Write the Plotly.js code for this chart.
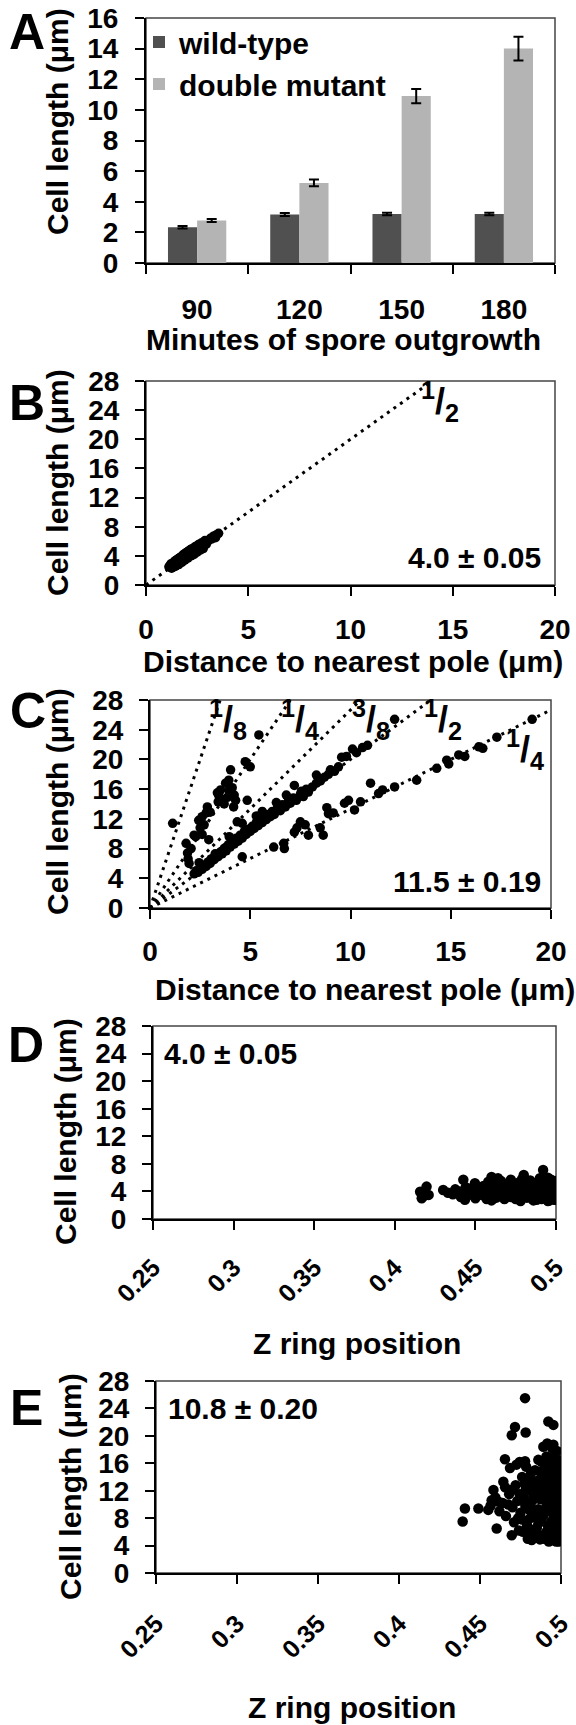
<!DOCTYPE html>
<html>
<head>
<meta charset="utf-8">
<script src="https://cdn.plot.ly/plotly-3.0.1.min.js"></script>
<style>html,body{margin:0;padding:0;background:#fff}#chart{width:576px;height:1725px}</style>
</head>
<body>
<div id="chart"></div>
<script>
// ---------- Panel A data ----------
const minutes = ['90','120','150','180'];
const wildType = [2.33, 3.17, 3.2, 3.2];
const wildTypeErr = [0.08, 0.1, 0.08, 0.08];
const doubleMutant = [2.77, 5.23, 10.9, 14.0];
const doubleMutantErr = [0.1, 0.22, 0.47, 0.77];

// ---------- Panel B data ----------
const bDist = [1.12,1.18,1.22,1.25,1.3,1.32,1.35,1.38,1.4,1.42,1.45,1.48,1.5,1.52,1.55,1.58,1.6,1.62,1.65,1.68,1.7,1.72,1.75,1.78,1.8,1.83,1.85,1.88,1.9,1.93,1.95,1.98,2.0,2.03,2.05,2.08,2.1,2.13,2.15,2.2,2.22,2.25,2.3,2.33,2.38,2.4,2.45,2.5,2.55,2.6,2.65,2.72,2.8,2.88,2.95,3.05,3.15,3.3,3.45,3.55,
 1.3,1.45,1.6,1.75,1.9,2.05,2.2,2.35,2.5,2.65,2.8,1.4,1.6,1.8,2.0,2.2,2.4,2.6,2.9,3.2,3.4];
const bLen = [2.5,2.7,2.9,2.3,2.8,3.0,2.5,3.1,2.7,3.3,2.8,3.4,2.9,3.5,3.0,3.6,3.1,3.7,3.2,3.8,3.3,3.5,3.9,3.5,4.1,3.6,4.2,3.7,4.3,3.8,4.4,3.9,4.5,4.0,4.6,4.1,4.7,4.2,4.8,4.3,4.9,4.4,5.0,4.5,5.2,4.6,5.3,4.8,5.5,4.9,5.6,5.8,5.2,6.1,5.6,6.1,6.4,6.7,6.9,7.1,
 2.4,2.6,2.8,3.1,3.4,3.7,4.0,4.2,4.5,4.8,5.0,3.2,3.6,4.0,4.4,4.9,5.2,5.6,6.0,6.3,6.5];
const bLineX = [0, 14];
const bLineY = [0, 28];

// ---------- Panel C data ----------
const cDist = [1.13,1.8,1.87,1.95,1.9,2.05,2.28,2.43,2.5,2.6,2.7,2.86,2.93,2.8,3.0,3.36,3.45,3.52,3.6,3.7,3.77,3.86,3.93,3.95,4.02,4.1,4.17,4.27,4.2,4.35,4.85,4.75,5.0,5.43,2.2,2.6,3.4,
 2.2,2.3,2.4,2.5,2.6,2.7,2.8,2.9,3.0,3.1,3.2,3.3,3.4,3.5,3.6,3.7,3.8,3.9,4.0,4.1,4.2,4.3,4.4,4.5,4.6,4.7,4.8,4.9,5.0,5.1,5.2,5.3,5.4,5.5,5.6,5.7,5.8,5.9,6.0,6.1,6.2,6.35,6.5,6.6,6.75,6.9,7.0,7.15,7.3,7.5,7.65,7.8,7.9,8.1,8.3,8.5,8.7,8.9,9.0,9.2,9.4,9.56,9.8,10.1,10.3,10.6,10.85,12.2,3.95,4.6,5.6,6.8,2.45,7.2,8.3,6.3,5.3,
 4.6,6.17,6.67,6.7,7.2,7.33,7.5,7.74,7.9,8.49,8.64,8.82,8.9,9.14,9.7,9.9,10.5,10.2,11.0,11.4,11.6,12.2,13.3,14.3,14.8,14.9,15.4,15.7,16.4,16.6,17.3,19.06,
 2.55,3.05,3.55,4.05,4.55,5.05,5.55,6.05,6.55,7.05,7.55,3.25,3.75,4.25,4.75];
const cLen = [11.4,8.7,7.4,6.0,6.6,8.0,9.6,11.8,10.8,12.3,11.2,13.6,9.2,12.8,12.9,15.5,15.0,15.9,14.5,14.0,16.8,14.9,17.2,15.8,18.6,16.2,13.6,14.5,15.2,11.6,14.5,19.7,19.0,23.3,9.8,9.9,14.3,
 4.6,5.0,4.8,5.4,5.2,5.8,5.6,6.2,6.0,6.6,6.5,7.1,6.9,7.5,7.3,8.0,7.7,8.5,8.2,8.9,8.6,9.4,9.0,9.8,9.4,10.3,9.9,10.6,10.3,11.0,10.7,11.5,11.1,11.8,11.5,12.2,11.9,12.6,12.3,13.0,12.6,13.4,13.1,13.9,13.6,14.4,14.1,14.8,14.5,15.3,15.0,16.0,15.6,16.3,16.8,17.1,17.6,18.0,18.6,18.4,19.0,20.3,20.4,21.4,20.9,21.6,21.9,25.4,9.6,11.4,13.0,15.2,6.1,16.5,17.9,14.2,12.4,
 6.9,8.2,8.7,8.0,10.2,10.8,11.6,11.2,9.8,10.8,9.8,13.5,12.7,12.8,14.1,14.5,14.3,13.2,16.8,15.4,15.9,16.3,17.2,18.8,19.9,19.4,20.6,20.4,21.7,21.5,23.0,25.4,
 5.6,6.6,7.6,8.7,9.6,10.6,11.6,12.6,13.7,14.7,15.7,7.3,8.1,9.0,10.0];
// reference ratio lines: end points of each line through the origin
const cLineNames = ['1/8','1/4','3/8','1/2','1/4 (far)'];
const cLineEndX = [3.5, 7, 10.5, 14, 20];
const cLineEndY = [28, 28, 28, 28, 26.67];

// ---------- Panel D data ----------
const dPos = [0.4157,0.4197,0.4167,0.421,0.43,0.433,0.436,0.44,0.4425,0.4435,0.445,0.447,0.4497,0.45,0.452,0.455,0.456,0.458,0.46,0.46,0.462,0.464,0.465,0.467,0.468,0.47,0.472,0.472,0.474,0.476,0.477,0.478,0.48,0.48,0.482,0.483,0.484,0.485,0.486,0.487,0.488,0.489,0.49,0.49,0.491,0.492,0.492,0.493,0.494,0.494,0.495,0.495,0.496,0.496,0.497,0.497,0.498,0.498,0.499,0.499,0.5,0.5,0.5,0.499,0.4985,0.4975,0.4965,0.4955,0.4935,0.4915,0.4895,0.4875,0.4855,0.4815,0.4785,0.4735,0.4695,0.4635,0.4575,0.4535,0.448,0.4385,
 0.441,0.444,0.451,0.454,0.457,0.461,0.463,0.466,0.469,0.471,0.473,0.475,0.479,0.481,0.483,0.486,0.488,0.49,0.492,0.493,0.495,0.496,0.497,0.498,0.499,0.5,0.5,0.499,0.494,0.491,0.489,0.484,0.477,0.47,0.465,0.459,0.455,0.4425,0.4375,0.4185];
const dLen = [3.96,4.7,3.0,3.5,4.2,3.8,3.6,4.0,5.7,2.8,3.4,4.4,5.2,3.0,3.8,4.8,3.3,5.4,6.1,2.7,4.1,5.9,3.5,4.6,2.9,5.0,5.7,3.2,4.3,3.7,5.3,2.6,6.4,4.0,3.1,4.8,5.6,3.5,2.7,4.4,5.0,3.2,4.0,5.9,2.9,7.1,3.7,4.6,5.3,3.0,4.2,2.6,5.6,3.5,4.9,3.9,4.4,3.1,5.0,3.7,4.2,3.3,4.8,2.8,5.4,4.0,3.3,4.7,3.9,4.3,3.8,3.0,4.2,3.6,4.5,4.0,3.7,4.3,4.0,4.3,3.8,4.0,
 3.2,4.6,4.4,3.5,2.9,4.9,3.1,5.5,4.0,3.4,4.9,2.9,5.8,4.4,3.4,5.2,2.8,4.6,5.0,3.3,6.0,2.7,5.7,4.7,3.0,5.5,2.8,4.5,4.5,3.5,4.9,4.0,3.3,4.4,3.9,3.5,4.2,3.6,4.3,3.4];

// ---------- Panel E data ----------
const ePos = [0.4778,0.4922,0.4953,0.4716,0.4696,0.4782,0.4891,0.4953,0.4654,0.4778,0.4685,0.4994,0.4644,0.4583,0.4407,0.449,0.4393,0.4551,0.4572,0.4603,0.4696,0.4819,
 0.462,0.464,0.466,0.468,0.47,0.471,0.472,0.473,0.474,0.475,0.476,0.477,0.478,0.479,0.48,0.48,0.481,0.482,0.483,0.484,0.485,0.485,0.486,0.487,0.487,0.488,0.488,0.489,0.489,0.49,0.49,0.491,0.491,0.492,0.492,0.492,0.493,0.493,0.493,0.494,0.494,0.494,0.495,0.495,0.495,0.495,0.496,0.496,0.496,0.497,0.497,0.497,0.497,0.498,0.498,0.498,0.498,0.499,0.499,0.499,0.5,0.5,0.5,0.5,0.5,0.4995,0.4985,0.4965,0.4945,0.4905,0.4865,0.4835,0.4805,0.4775,0.4755,0.4735,0.4705,0.4675,0.4655,0.4615,0.4595,0.4565,0.4845,0.4895,0.4925,0.4955,0.4985,0.4875,0.4815,0.4785,0.4745,0.4725,
 0.476,0.478,0.479,0.481,0.482,0.483,0.484,0.485,0.486,0.486,0.487,0.488,0.488,0.489,0.49,0.49,0.491,0.491,0.492,0.492,0.493,0.493,0.494,0.494,0.494,0.495,0.495,0.496,0.496,0.496,0.497,0.497,0.497,0.498,0.498,0.498,0.499,0.499,0.499,0.499,0.5,0.5,0.5,0.4995,0.4975,0.4915,0.4855,0.4825,0.4805,0.4795,0.4765,0.4745];
const eLen = [25.5,22.1,21.6,21.3,20.1,20.5,18.4,18.7,16.6,16.3,15.3,15.3,13.3,12.1,9.4,9.4,7.5,9.2,10.6,6.5,5.5,4.8,
 9.0,10.2,8.3,11.5,9.6,7.4,12.8,10.5,6.2,8.8,14.0,11.2,9.8,7.0,12.4,5.6,10.0,13.5,8.2,15.0,11.0,6.5,9.3,12.9,4.9,16.2,7.8,10.7,14.2,5.6,8.9,12.0,17.0,6.8,10.3,13.8,4.7,9.4,15.6,7.5,11.6,14.5,5.3,8.6,12.7,16.8,6.1,10.0,13.2,4.6,7.9,11.3,15.0,5.8,9.2,12.1,14.0,6.9,10.6,13.0,8.0,11.8,5.0,9.8,14.8,7.3,16.0,17.5,18.2,15.8,13.6,11.8,9.2,13.0,10.8,8.0,12.2,10.0,12.5,10.4,11.0,9.8,6.0,5.0,4.6,4.8,4.6,14.8,14.6,15.5,16.2,15.8,
 7.8,12.0,10.3,8.0,6.3,11.5,13.0,9.0,16.5,7.2,10.8,5.3,13.2,8.4,11.5,14.6,6.0,9.6,12.8,16.0,7.0,11.0,5.0,9.0,13.5,10.5,15.5,7.0,11.5,14.5,5.2,9.5,13.0,7.2,10.8,15.8,5.4,8.6,12.3,14.8,6.5,10.6,13.0,16.4,17.8,18.9,12.2,10.6,13.7,5.0,6.0,11.5];

// ---------- Text ----------
const yTitle = 'Cell length (μm)';
const xTitleA = 'Minutes of spore outgrowth';
const xTitleBC = 'Distance to nearest pole (μm)';
const xTitleDE = 'Z ring position';
const statB = '4.0 ± 0.05', statC = '11.5 ± 0.19', statD = '4.0 ± 0.05', statE = '10.8 ± 0.20';
const fracLabels = ['<sup>1</sup>/<sub>8</sub>','<sup>1</sup>/<sub>4</sub>','<sup>3</sup>/<sub>8</sub>','<sup>1</sup>/<sub>2</sub>','<sup>1</sup>/<sub>4</sub>'];
const fracLabelX = [3.9, 7.5, 11.0, 14.6, 18.7];
const fracLabelY = [25.4, 25.4, 25.4, 25.4, 21.3];

// ---------- Layout helpers ----------
const W = 576, H = 1725;
const FF = 'Liberation Sans, Arial, Helvetica, sans-serif';
const px = v => v / W, py = v => 1 - v / H;
const boxes = { // [left, right, top, bottom] in pixels
  A: [146, 555, 18, 263], B: [146, 555, 381, 585], C: [150, 551, 700, 908],
  D: [153, 556, 1026, 1219], E: [156, 561, 1381, 1573]
};
const xd = k => [px(boxes[k][0]), px(boxes[k][1])];
const yd = k => [py(boxes[k][3]), py(boxes[k][2])];
const tickFont = {family: FF, size: 28, color: '#000', weight: 'bold'};
const angledTickFont = {family: FF, size: 25, color: '#000', weight: 'bold'};
function axisBase(extra) {
  return Object.assign({showline: true, linecolor: '#000', linewidth: 2, ticks: 'outside',
    ticklen: 9, tickwidth: 2, tickcolor: '#000', showgrid: false, zeroline: false,
    tickfont: tickFont, fixedrange: true}, extra);
}

const blk = '#000';
const traces = [
  {type: 'bar', x: minutes, y: wildType, name: 'wild-type', marker: {color: '#505050'},
   error_y: {type: 'data', array: wildTypeErr, color: blk, thickness: 2, width: 5}, xaxis: 'x', yaxis: 'y'},
  {type: 'bar', x: minutes, y: doubleMutant, name: 'double mutant', marker: {color: '#b4b4b4'},
   error_y: {type: 'data', array: doubleMutantErr, color: blk, thickness: 2, width: 5}, xaxis: 'x', yaxis: 'y'},
  {type: 'scatter', mode: 'lines', x: bLineX, y: bLineY, line: {color: blk, width: 3, dash: '3px,5px'},
   showlegend: false, xaxis: 'x2', yaxis: 'y2'},
  {type: 'scatter', mode: 'markers', x: bDist, y: bLen, marker: {color: blk, size: 9.5},
   showlegend: false, xaxis: 'x2', yaxis: 'y2'}
];
cLineEndX.forEach((ex, i) => {
  traces.push({type: 'scatter', mode: 'lines', x: [0, ex], y: [0, cLineEndY[i]], name: cLineNames[i],
    line: {color: blk, width: 3, dash: '3px,5px'}, showlegend: false, xaxis: 'x3', yaxis: 'y3'});
});
traces.push({type: 'scatter', mode: 'markers', x: cDist, y: cLen, marker: {color: blk, size: 9.5},
  showlegend: false, xaxis: 'x3', yaxis: 'y3'});
traces.push({type: 'scatter', mode: 'markers', x: dPos, y: dLen, marker: {color: blk, size: 10.5},
  showlegend: false, xaxis: 'x4', yaxis: 'y4'});
traces.push({type: 'scatter', mode: 'markers', x: ePos, y: eLen, marker: {color: blk, size: 10.5},
  showlegend: false, xaxis: 'x5', yaxis: 'y5'});

const bigFont = {family: FF, size: 30, color: '#000', weight: 'bold'};
const fracFont = {family: FF, size: 36, color: '#000', weight: 'bold'};
const annotations = [];
function ann(text, x, y, opts) {
  annotations.push(Object.assign({text, x: px(x), y: py(y), xref: 'paper', yref: 'paper',
    showarrow: false, font: bigFont, xanchor: 'center', yanchor: 'middle'}, opts || {}));
}
// panel letters
[['A', 27, 32], ['B', 27, 403], ['C', 28, 711], ['D', 26, 1045], ['E', 26, 1408]].forEach(l =>
  ann(l[0], l[1], l[2], {font: Object.assign({}, bigFont, {size: 50})}));
// y titles
[[57, 122], [57, 483], [57, 802], [65, 1132], [70, 1487]].forEach(p =>
  ann(yTitle, p[0], p[1], {textangle: -90}));
// x titles
ann(xTitleA, 343, 339);
ann(xTitleBC, 353, 661);
ann(xTitleBC, 365, 989);
ann(xTitleDE, 357, 1343);
ann(xTitleDE, 352, 1707);
// stats
ann(statB, 543, 557, {xanchor: 'right'});
ann(statC, 543, 882, {xanchor: 'right'});
ann(statD, 162, 1053, {xanchor: 'left'});
ann(statE, 166, 1408, {xanchor: 'left'});
// fraction labels
annotations.push({text: '<sup>1</sup>/<sub>2</sub>', x: 14.4, y: 25.2, xref: 'x2', yref: 'y2',
  showarrow: false, font: fracFont});
fracLabels.forEach((t, i) => annotations.push({text: t, x: fracLabelX[i], y: fracLabelY[i],
  xref: 'x3', yref: 'y3', showarrow: false, font: fracFont}));

// frames (top/right borders)
const shapes = ['', '2', '3', '4', '5'].map(s => ({type: 'rect', xref: 'x' + s + ' domain', yref: 'y' + s + ' domain',
  x0: 0, x1: 1, y0: 0, y1: 1, line: {color: '#444', width: 1.5}, layer: 'below'}));

const layout = {
  width: W, height: H, margin: {l: 0, r: 0, t: 0, b: 0},
  paper_bgcolor: '#fff', plot_bgcolor: '#fff', showlegend: true,
  barmode: 'group', bargap: 0.43, bargroupgap: 0,
  font: {family: FF, color: '#000'},
  legend: {x: px(139), y: py(16), xanchor: 'left', yanchor: 'top', bgcolor: 'rgba(0,0,0,0)',
    font: bigFont, tracegroupgap: 0, itemwidth: 30},
  xaxis: axisBase({domain: xd('A'), anchor: 'y', type: 'category', tickson: 'boundaries', ticklabelstandoff: 20}),
  yaxis: axisBase({domain: yd('A'), anchor: 'x', range: [0, 16], dtick: 2, ticklabelstandoff: 11}),
  xaxis2: axisBase({domain: xd('B'), anchor: 'y2', range: [0, 20], dtick: 5, ticklabelstandoff: 9}),
  yaxis2: axisBase({domain: yd('B'), anchor: 'x2', range: [0, 28], dtick: 4, ticklabelstandoff: 10}),
  xaxis3: axisBase({domain: xd('C'), anchor: 'y3', range: [0, 20], dtick: 5, ticklabelstandoff: 8}),
  yaxis3: axisBase({domain: yd('C'), anchor: 'x3', range: [0, 28], dtick: 4, ticklabelstandoff: 10}),
  xaxis4: axisBase({domain: xd('D'), anchor: 'y4', range: [0.25, 0.5], dtick: 0.05, tick0: 0.25, tickangle: -45, tickfont: angledTickFont, ticklabelstandoff: 13}),
  yaxis4: axisBase({domain: yd('D'), anchor: 'x4', range: [0, 28], dtick: 4, ticklabelstandoff: 10}),
  xaxis5: axisBase({domain: xd('E'), anchor: 'y5', range: [0.25, 0.5], dtick: 0.05, tick0: 0.25, tickangle: -45, tickfont: angledTickFont, ticklabelstandoff: 15}),
  yaxis5: axisBase({domain: yd('E'), anchor: 'x5', range: [0, 28], dtick: 4, ticklabelstandoff: 10}),
  annotations, shapes
};
Plotly.newPlot('chart', traces, layout, {staticPlot: true, displayModeBar: false});
</script>
</body>
</html>
